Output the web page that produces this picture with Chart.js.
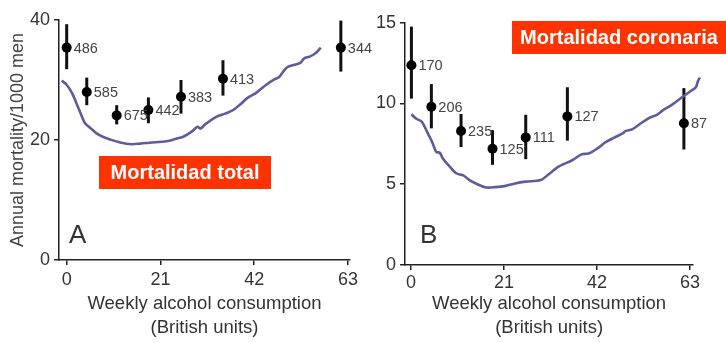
<!DOCTYPE html>
<html>
<head>
<meta charset="utf-8">
<script src="https://cdn.jsdelivr.net/npm/chart.js@4/dist/chart.umd.min.js"></script>
<style>
  html, body { margin: 0; padding: 0; background: #fff; }
  #wrap { position: relative; width: 726px; height: 343px; overflow: hidden; }
  canvas { position: absolute; top: 0; }
  #chartA { left: 0; }
  #chartB { left: 363px; }
</style>
</head>
<body>
<div id="wrap">
  <canvas id="chartA" width="400" height="343"></canvas>
  <canvas id="chartB" width="363" height="343"></canvas>
</div>
<script>
// Axis ticks
const unitTicks = [0, 21, 42, 63];
const totalTicks = [0, 20, 40];
const coronaryTicks = [0, 5, 10, 15];

// Panel A: total mortality by weekly intake group
const totalUnits = [0, 4.5, 11.2, 18.3, 25.6, 35.0, 61.4];
const totalRate  = [35.4, 28.0, 24.1, 25.0, 27.2, 30.2, 35.4];
const totalLow   = [31.8, 25.8, 22.6, 22.8, 24.4, 27.4, 31.4];
const totalHigh  = [39.3, 30.4, 25.8, 27.1, 30.0, 33.3, 39.9];
const totalDeaths = [486, 585, 675, 442, 383, 413, 344];

// Panel A: fitted curve
const totalCurveX = [-1.1, 0, 1.2, 2.2, 3.2, 4.1, 5.3, 6.7, 8.2, 9.7, 12, 14.5, 16.5, 18.6, 22.4, 24.5, 26.1, 28, 29.3, 30, 31, 33.6, 35.5, 37.3, 39, 40.3, 42.5, 44.7, 46.5, 47.6, 48.5, 49.5, 52.2, 53.2, 54.4, 55.8, 56.9];
const totalCurveY = [29.9, 29.2, 27.8, 26.1, 24.3, 22.8, 22.0, 21.1, 20.5, 20.1, 19.6, 19.3, 19.4, 19.55, 19.8, 20.2, 20.55, 21.4, 22.2, 21.9, 22.6, 23.9, 24.4, 25.0, 26.0, 26.9, 27.9, 29.2, 30.1, 30.5, 31.4, 32.2, 32.8, 33.6, 33.9, 34.5, 35.4];

// Panel B: coronary mortality by weekly intake group
const coronaryUnits = [0.1, 4.6, 11.3, 18.4, 25.9, 35.3, 61.6];
const coronaryRate  = [12.37, 9.8, 8.3, 7.2, 7.9, 9.2, 8.77];
const coronaryLow   = [10.3, 8.46, 7.3, 6.2, 6.55, 7.7, 7.15];
const coronaryHigh  = [14.76, 11.2, 9.35, 8.35, 9.3, 11.0, 10.95];
const coronaryDeaths = [170, 206, 235, 125, 111, 127, 87];

// Panel B: fitted curve
const coronaryCurveX = [0.1, 1.2, 2.4, 3.8, 4.8, 5.7, 6.5, 7.2, 8.7, 10.2, 11.8, 13.2, 15, 16.9, 19, 21.4, 23.5, 25.9, 29.3, 31, 33.4, 36.5, 38.5, 40.1, 42, 43.9, 46, 47.8, 48.5, 49.9, 51.5, 53.6, 55.5, 57, 58.8, 61, 63.3, 64.3, 64.8, 65.2];
const coronaryCurveY = [9.33, 9.05, 8.88, 8.15, 7.6, 7.0, 6.95, 6.6, 6.1, 5.68, 5.55, 5.26, 5.0, 4.8, 4.82, 4.9, 5.05, 5.16, 5.26, 5.6, 6.1, 6.5, 6.85, 6.9, 7.2, 7.6, 7.9, 8.15, 8.3, 8.4, 8.7, 9.08, 9.3, 9.6, 9.9, 10.35, 10.8, 11.0, 11.4, 11.6];

const FONT = "'Liberation Sans', Arial, sans-serif";
const CURVE_COLOR = '#5d5d9c';
const RED = '#ff3300';
const INK = '#222';

const toPoints = (xs, ys) => xs.map((x, i) => ({ x, y: ys[i] }));

// Vertical confidence bars behind the points
const errorBars = {
  id: 'errorBars',
  beforeDatasetsDraw(chart, args, opts) {
    const { ctx, scales: { x, y } } = chart;
    ctx.save();
    ctx.strokeStyle = '#111';
    ctx.lineWidth = 3;
    opts.xs.forEach((v, i) => {
      const px = x.getPixelForValue(v);
      ctx.beginPath();
      ctx.moveTo(px, y.getPixelForValue(opts.lo[i]));
      ctx.lineTo(px, y.getPixelForValue(opts.hi[i]));
      ctx.stroke();
    });
    ctx.restore();
  }
};

// Death counts beside each point, panel letter and the red caption box
const annotations = {
  id: 'annotations',
  afterDatasetsDraw(chart, args, opts) {
    const { ctx, scales: { x, y } } = chart;
    ctx.save();
    ctx.font = `14.5px ${FONT}`;
    ctx.fillStyle = '#444';
    ctx.textBaseline = 'middle';
    ctx.textAlign = 'left';
    opts.xs.forEach((v, i) => {
      ctx.fillText(String(opts.counts[i]),
        x.getPixelForValue(v) + 7,
        y.getPixelForValue(opts.ys[i]) + 1);
    });

    ctx.font = `26px ${FONT}`;
    ctx.fillStyle = '#333';
    ctx.textBaseline = 'alphabetic';
    ctx.fillText(opts.letter, opts.letterPos[0], opts.letterPos[1]);

    const [bx, by, bw, bh] = opts.box;
    ctx.fillStyle = RED;
    ctx.fillRect(bx, by, bw, bh);
    ctx.fillStyle = '#fff';
    ctx.font = `bold 20px ${FONT}`;
    ctx.textAlign = 'center';
    ctx.textBaseline = 'middle';
    ctx.fillText(opts.caption, bx + bw / 2, by + bh / 2 + 1);
    ctx.restore();
  }
};

function makePanel(canvas, cfg) {
  return new Chart(canvas, {
    type: 'scatter',
    data: {
      datasets: [
        {
          // listed right to left so the whole curve is drawn, including the part past the axis end
          data: toPoints(cfg.curveX, cfg.curveY).reverse(),
          showLine: true,
          borderColor: CURVE_COLOR,
          borderWidth: 2.6,
          pointRadius: 0,
          tension: 0.3,
          clip: false
        },
        {
          data: toPoints(cfg.xs, cfg.ys),
          showLine: false,
          pointRadius: 5,
          pointBackgroundColor: '#000',
          pointBorderColor: '#000',
          pointBorderWidth: 0,
          clip: false
        }
      ]
    },
    options: {
      responsive: false,
      animation: false,
      events: [],
      layout: { padding: cfg.padding },
      plugins: {
        legend: { display: false },
        tooltip: { enabled: false },
        errorBars: { xs: cfg.xs, lo: cfg.lo, hi: cfg.hi },
        annotations: {
          xs: cfg.xs, ys: cfg.ys, counts: cfg.counts,
          letter: cfg.letter, letterPos: cfg.letterPos,
          caption: cfg.caption, box: cfg.box
        }
      },
      scales: {
        x: {
          type: 'linear',
          min: cfg.xMin,
          max: cfg.xMax,
          afterBuildTicks(scale) { scale.ticks = unitTicks.map(v => ({ value: v })); },
          afterFit(scale) { scale.height = cfg.xHeight; },
          border: { color: INK, width: 1.5 },
          grid: { drawOnChartArea: false, tickLength: 5, color: INK, lineWidth: 1.5 },
          ticks: { color: '#333', font: { family: FONT, size: 18 }, padding: cfg.xTickPad, maxRotation: 0 },
          title: {
            display: true,
            text: ['Weekly alcohol consumption', '(British units)'],
            color: '#333',
            font: { family: FONT, size: 18.5, lineHeight: 24 / 18.5 },
            padding: { top: 0, bottom: 3 }
          }
        },
        y: {
          min: cfg.yMin,
          max: cfg.yMax,
          afterBuildTicks(scale) { scale.ticks = cfg.yTicks.map(v => ({ value: v })); },
          afterFit(scale) { scale.width = cfg.yWidth; },
          border: { color: INK, width: 1.5 },
          grid: { drawOnChartArea: false, tickLength: 5, color: INK, lineWidth: 1.5 },
          ticks: { color: '#333', font: { family: FONT, size: 18 }, padding: 4 },
          title: {
            display: !!cfg.yTitle,
            text: cfg.yTitle || '',
            color: '#444',
            font: { family: FONT, size: 18 },
            padding: { top: 7, bottom: 0 }
          }
        }
      }
    },
    plugins: [errorBars, annotations]
  });
}

makePanel(document.getElementById('chartA'), {
  xs: totalUnits, ys: totalRate, lo: totalLow, hi: totalHigh, counts: totalDeaths,
  curveX: totalCurveX, curveY: totalCurveY,
  xMin: -1.72, xMax: 63.45, yMin: 0, yMax: 40, yTicks: totalTicks,
  padding: { left: 0, top: 20, right: 50, bottom: 0 },
  yWidth: 59, xHeight: 83, xTickPad: 4,
  yTitle: 'Annual mortality/1000 men',
  letter: 'A', letterPos: [69, 243],
  caption: 'Mortalidad total', box: [99, 156, 172, 33]
});

makePanel(document.getElementById('chartB'), {
  xs: coronaryUnits, ys: coronaryRate, lo: coronaryLow, hi: coronaryHigh, counts: coronaryDeaths,
  curveX: coronaryCurveX, curveY: coronaryCurveY,
  xMin: -1.35, xMax: 63.7, yMin: 0, yMax: 15, yTicks: coronaryTicks,
  padding: { left: 0, top: 22.7, right: 32.8, bottom: 0 },
  yWidth: 42, xHeight: 78, xTickPad: 2,
  yTitle: null,
  letter: 'B', letterPos: [57, 243],
  caption: 'Mortalidad coronaria', box: [149, 21, 214, 33]
});
</script>
</body>
</html>
